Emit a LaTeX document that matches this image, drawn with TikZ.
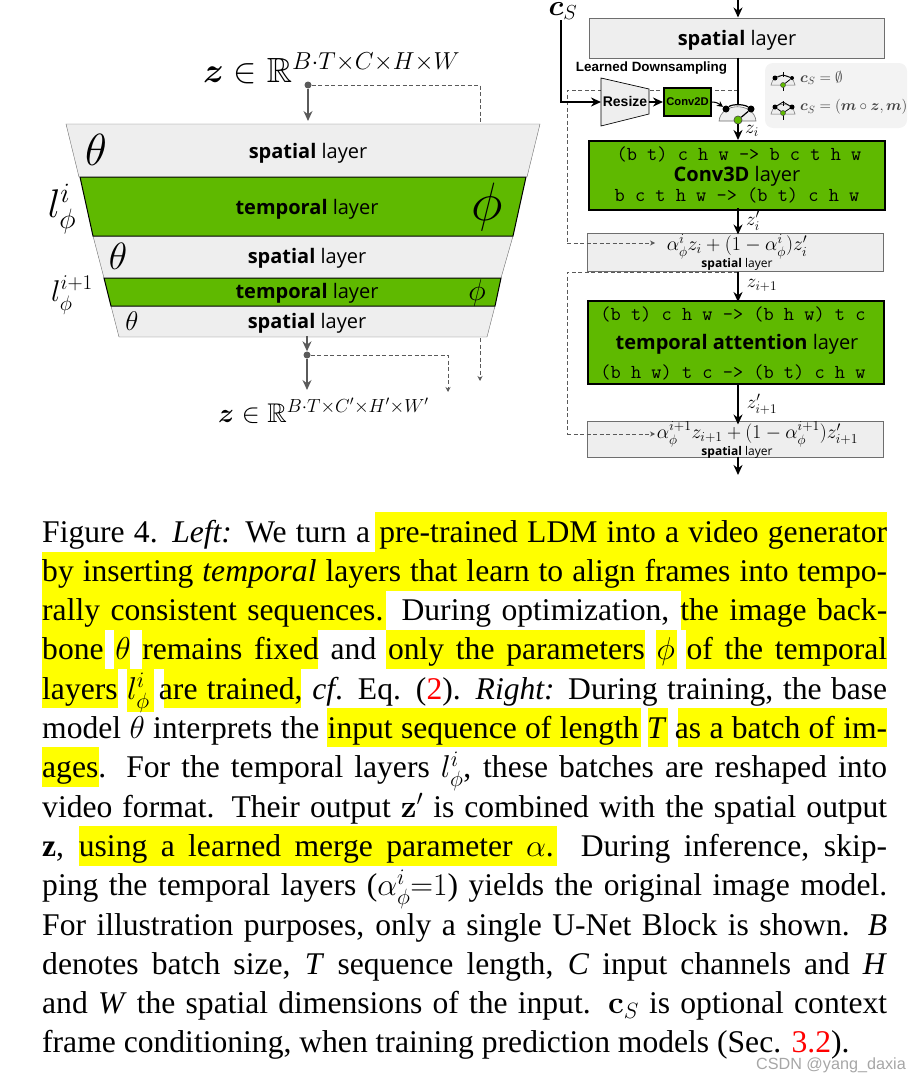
\documentclass[tikz,border=0pt]{standalone}
\usepackage{fix-cm}
\usepackage{amsmath,amssymb,bm}
\usepackage[no-math]{fontspec}
\setmainfont{Liberation Serif}
\newfontfamily\layerfont{Open Sans}
\newfontfamily\labelfont{Liberation Sans}
\usetikzlibrary{arrows.meta}
\definecolor{layergray}{HTML}{EEEEEE}
\definecolor{legendgray}{HTML}{F3F3F3}
\definecolor{linegray}{HTML}{6E6E6E}
\definecolor{arrowgray}{HTML}{5A5A5A}
\definecolor{layergreen}{HTML}{5FB900}
\definecolor{markyellow}{HTML}{FFFF00}
\definecolor{refred}{HTML}{FF0000}
\newcommand{\fsz}[1]{\fontsize{#1}{#1}\selectfont}
\tikzset{
	layertext/.style={inner sep=0pt, yshift=-2.5pt, font=\layerfont\fsz{20}},
	smalltext/.style={inner sep=0pt, yshift=-1pt, font=\layerfont\fsz{12}},
	monotext/.style={inner sep=0pt, yshift=0.5pt, font=\ttfamily\fsz{19.8}},
	mathtext/.style={inner sep=0pt, font=\fsz{#1}},
	spatialbox/.style={draw=linegray, fill=layergray, line width=1pt, inner sep=0pt},
	greenbox/.style={draw=black, fill=layergreen, line width=2pt, inner sep=0pt},
	blackarrow/.style={-{Stealth[length=10pt,width=9pt]}, line width=1.8pt},
	grayarrow/.style={-{Stealth[length=10pt,width=9pt]}, draw=arrowgray, line width=1.3pt},
	dashline/.style={dashed, draw=arrowgray, line width=0.8pt, dash pattern=on 4pt off 2.5pt},
	dashtip/.style={dashline, -{Stealth[length=5pt,width=5pt]}},
	blackdot/.style={circle, fill=black, inner sep=0pt, minimum size=#1},
	greendot/.style={circle, fill=layergreen, draw=black!70, line width=0.5pt, inner sep=0pt, minimum size=#1},
	capline/.style={anchor=base west, inner sep=0pt, font=\rmfamily\fsz{31.6}},
	hilite/.style={fill=markyellow}
}
\begin{document}
\begin{tikzpicture}[x=1pt, y=-1pt]
	\useasboundingbox (0,0) rectangle (908,1076);
	% left part
	\fill[layergray] (66,124) -- (540,124) -- (527,177) -- (79,177) -- cycle;
	\fill[layergray] (93,236) -- (513,236) -- (501,278) -- (104,278) -- cycle;
	\fill[layergray] (111,306) -- (495,306) -- (487,337) -- (119,337) -- cycle;
	\draw[linegray] (79,177) -- (66,124) -- (540,124) -- (527,177);
	\draw[linegray] (93,236) -- (104,278) (513,236) -- (501,278);
	\draw[linegray] (111,306) -- (119,337) -- (487,337) -- (495,306);
	\draw[fill=layergreen, line width=1pt] (80,177) -- (526,177) -- (513,236) -- (93,236) -- cycle;
	\draw[fill=layergreen, line width=1pt] (104,278) -- (501,278) -- (495,306) -- (111,306) -- cycle;
	\node[layertext] (spA) at (308,151) {\textbf{spatial} layer};
	\node[layertext] (tmA) at (307,207) {\textbf{temporal} layer};
	\node[layertext] (spB) at (307,256) {\textbf{spatial} layer};
	\node[layertext] (tmB) at (307,291) {\textbf{temporal} layer};
	\node[layertext] (spC) at (307,321) {\textbf{spatial} layer};
	\node[mathtext=45] (thA) at (96,150) {$\theta$};
	\node[mathtext=54] (phA) at (487,207) {$\phi$};
	\node[mathtext=38] (thB) at (118,256) {$\theta$};
	\node[mathtext=30] (phB) at (477,293) {$\phi$};
	\node[mathtext=27] (thC) at (132,321) {$\theta$};
	\node[mathtext=40] (lyA) at (62,209) {$l_\phi^i$};
	\node[mathtext=30] (lyB) at (72,295) {$l_\phi^{i+1}$};
	\node[mathtext=35, anchor=base west] (inp) at (203,82) {$\bm{z}\in\mathbb{R}^{B\cdot T\times C\times H\times W}$};
	\node[mathtext=27, anchor=base west] (out) at (218,422) {$\bm{z}\in\mathbb{R}^{B\cdot T\times C'\times H'\times W'}$};
	\node[blackdot=7pt, fill=arrowgray] (inpdot) at (308,85) {};
	\node[blackdot=7pt, fill=arrowgray] (outdot) at (307,355) {};
	\coordinate (inpend) at (308,121);
	\coordinate (dashtop) at (480,122);
	\coordinate (outtop) at (307,336);
	\coordinate (outend) at (307,390);
	\coordinate (dashA) at (448,392);
	\coordinate (dashB) at (480,338);
	\coordinate (dashC) at (480,381);
	\draw[grayarrow] (inpdot) -- (inpend);
	\draw[dashline] (inpdot) -| (dashtop);
	\draw[grayarrow] (outtop) -- (outdot);
	\draw[grayarrow] (outdot) -- (outend);
	\draw[dashtip] (outdot) -| (dashA);
	\draw[dashtip] (dashB) -- (dashC);
	% right part
	\node[spatialbox, minimum width=295pt, minimum height=40pt] (spTop) at (736.5,38) {};
	\node[layertext] (spTopT) at (737,38) {\textbf{spatial} layer};
	\node[greenbox, minimum width=296pt, minimum height=69pt] (conv) at (737,175.5) {};
	\node[spatialbox, minimum width=296pt, minimum height=38pt] (mixA) at (735,252) {};
	\node[greenbox, minimum width=296pt, minimum height=83pt] (attn) at (736,342.5) {};
	\node[spatialbox, minimum width=296pt, minimum height=36pt] (mixB) at (735,439) {};
	\node[fill=legendgray, rounded corners=8pt, minimum width=142pt, minimum height=65pt, inner sep=0pt] (legend) at (836,95.5) {};
	\coordinate (dashD) at (738,90);
	\coordinate (dashE) at (567,243);
	\coordinate (dashEnd) at (655,243);
	\coordinate (dashF) at (738,272);
	\coordinate (dashG) at (567,434);
	\coordinate (dashEndB) at (655,434);
	\draw[dashline] (dashD) -- (dashD -| dashE) -- (dashE);
	\draw[dashtip] (dashE) -- (dashEnd);
	\draw[dashline] (dashF) -- (dashF -| dashG) -- (dashG);
	\draw[dashtip] (dashG) -- (dashEndB);
	\node[mathtext=29] (cs) at (563,11) {$\bm{c}_S$};
	\node[inner sep=0pt, font=\labelfont\bfseries\fsz{13.4}] (down) at (651.5,68) {Learned Downsampling};
	\draw[fill=layergray, line width=0.7pt] (601,78) -- (649,89) -- (649,114) -- (601,126) -- cycle;
	\node[inner sep=0pt, font=\labelfont\bfseries\fsz{14}] (resize) at (625,101) {Resize};
	\node[greenbox, minimum width=47pt, minimum height=28pt, font=\labelfont\bfseries\fsz{11.2}] (cv2) at (687.5,102) {Conv2D};
	% merge symbol
	\fill[layergray] (719,121) .. controls (721,102) and (754,102) .. (756,121) -- cycle;
	\draw[linegray, line width=0.6pt] (719,121) .. controls (721,102) and (754,102) .. (756,121) -- cycle;
	\node[blackdot=7pt] (mrgL) at (726,109) {};
	\node[blackdot=7pt] (mrgR) at (751,109) {};
	\coordinate (mrgT) at (738,105);
	\draw[line width=1.2pt] (mrgL) .. controls (732,104) and (744,104) .. (mrgR);
	\node[greendot=8pt] (mrg) at (738,120) {};
	\draw[line width=1.2pt] (mrgR) -- (mrg);
	\node[greendot=8pt] at (mrg) {};
	% connectors
	\coordinate (csT) at (561,20);
	\coordinate (outB) at (738,475);
	\coordinate (inT) at (738,0);
	\draw[blackarrow] (inT) -- (spTop.north -| mrg);
	\draw[line width=1.8pt] ([yshift=1pt]spTop.south -| mrg) -- (mrgT);
	\draw[blackarrow] (csT) |- (601,102);
	\draw[blackarrow] (649,102) -- (cv2.west);
	\draw[-{Stealth[length=6pt,width=6pt]}, line width=1pt] (cv2.east) .. controls (717,102) and (719,104) .. (mrgL);
	\draw[blackarrow] (mrg) -- (conv.north -| mrg);
	\draw[blackarrow] ([yshift=3pt]conv.south -| mrg) -- ([yshift=-2pt]mixA.north -| mrg);
	\draw[blackarrow] (mixA.south -| mrg) -- ([yshift=-2pt]attn.north -| mrg);
	\draw[blackarrow] (attn.south -| mrg) -- ([yshift=-4pt]mixB.north -| mrg);
	\draw[blackarrow] ([yshift=1pt]mixB.south -| mrg) -- (outB);
	\node[mathtext=19] (zA) at (752,131) {$z_i$};
	\node[mathtext=19] (zB) at (753,221) {$z_i'$};
	\node[mathtext=19] (zC) at (762,285) {$z_{i+1}$};
	\node[mathtext=19] (zD) at (762,404) {$z_{i+1}'$};
	\node[monotext] (cvA) at (739,155) {(b t) c h w -> b c t h w};
	\node[layertext] (cvB) at (737,174) {\textbf{Conv3D} layer};
	\node[monotext] (cvC) at (737,196) {b c t h w -> (b t) c h w};
	\node[monotext] (atA) at (733,315) {(b t) c h w -> (b h w) t c};
	\node[layertext] (atB) at (737,342) {\textbf{temporal attention} layer};
	\node[monotext] (atC) at (733,373) {(b h w) t c -> (b t) c h w};
	\node[mathtext=19.8] (mxA) at (737,247) {$\alpha_\phi^i z_i+(1-\alpha_\phi^i)z_i'$};
	\node[smalltext] (mxAT) at (737,263) {\textbf{spatial} layer};
	\node[mathtext=19.6] (mxB) at (757.5,434) {$\alpha_\phi^{i+1} z_{i+1}+(1-\alpha_\phi^{i+1})z_{i+1}'$};
	\node[smalltext] (mxBT) at (737,451) {\textbf{spatial} layer};
	% legend
	\foreach \ly/\lname in {78/icA,107/icB} {
		\fill[layergray] (771,\ly+7) .. controls (773,\ly-6) and (793,\ly-6) .. (795,\ly+7) -- cycle;
		\draw[linegray, line width=0.5pt] (771,\ly+7) .. controls (773,\ly-6) and (793,\ly-6) .. (795,\ly+7) -- cycle;
		\draw[line width=0.8pt] (783,\ly-6) -- (783,\ly-1) (783,\ly+7) -- (783,\ly+13);
	}
	\node[blackdot=5pt] (icAL) at (775,78) {};
	\node[blackdot=4pt] (icAR) at (792,78) {};
	\node[greendot=5pt] (icAG) at (783,85) {};
	\draw[line width=0.8pt] (icAL) -- (783,75) -- (icAR) -- (icAG);
	\node[blackdot=5pt] (icBL) at (775,107) {};
	\node[blackdot=5pt] (icBR) at (792,107) {};
	\node[greendot=5pt] (icBG) at (783,113) {};
	\draw[line width=0.8pt] (icBL) -- (icBG) -- (icBR) -- (783,102) -- (icBL);
	\node[mathtext=15, anchor=west, text=black!75] (lgA) at (800,78) {$\bm{c}_S=\emptyset$};
	\node[mathtext=15, anchor=west, text=black!75] (lgB) at (800,107) {$\bm{c}_S=(\bm{m}\circ\bm{z},\bm{m})$};
	% caption
	\foreach \xa/\ya/\xb/\yb in {375/512/887/552, 42/552/887/591, 42/591/386/630, 681/591/887/630, 42/630/105/669, 114/630/130/669, 142/630/318/669, 386/630/645/669, 656/630/677/669, 686/630/887/669, 42/669/118/708, 127/669/154/712, 164/669/301/708, 327/708/641/747, 648/708/668/747, 678/708/887/747, 42/747/99/787, 79/826/557/866} {
		\fill[hilite] (\xa,\ya) rectangle (\xb,\yb);
	}
	\node[capline] (capA) at (42,542) {\hbox to 845pt{Figure 4. \textit{Left:} We turn a pre-trained LDM into a video generator}};
	\node[capline] (capB) at (42,581.3) {\hbox to 845pt{by inserting \textit{temporal} layers that learn to align frames into tempo-}};
	\node[capline] (capC) at (42,620.6) {\hbox to 845pt{rally consistent sequences. During optimization, the image back-}};
	\node[capline] (capD) at (42,659.9) {\hbox to 845pt{bone $\theta$ remains fixed and only the parameters $\phi$ of the temporal}};
	\node[capline] (capE) at (42,699.2) {\hbox to 845pt{layers $l_\phi^i$ are trained, \textit{cf}. Eq. ({\color{refred}2}). \textit{Right:} During training, the base}};
	\node[capline] (capF) at (42,738.5) {\hbox to 845pt{model $\theta$ interprets the input sequence of length \textit{T} as a batch of im-}};
	\node[capline] (capG) at (42,777.8) {\hbox to 845pt{ages. For the temporal layers $l_\phi^i$, these batches are reshaped into}};
	\node[capline] (capH) at (42,817.1) {\hbox to 845pt{video format. Their output $\mathbf{z}'$ is combined with the spatial output}};
	\node[capline] (capI) at (42,856.4) {\hbox to 845pt{\textbf{z}, using a learned merge parameter $\alpha$. During inference, skip-}};
	\node[capline] (capJ) at (42,895.7) {\hbox to 845pt{ping the temporal layers ($\alpha_\phi^i{=}1$) yields the original image model.}};
	\node[capline] (capK) at (42,935) {\hbox to 845pt{For illustration purposes, only a single U-Net Block is shown. \textit{B}}};
	\node[capline] (capL) at (42,974.3) {\hbox to 845pt{denotes batch size, \textit{T} sequence length, \textit{C} input channels and \textit{H}}};
	\node[capline] (capM) at (42,1013.6) {\hbox to 845pt{and \textit{W} the spatial dimensions of the input. $\mathbf{c}_S$ is optional context}};
	\node[capline] (capN) at (42,1052.9) {frame conditioning, when training prediction models (Sec. {\color{refred}3.2}).};
	\node[anchor=base east, inner sep=0pt, text=black!35, font=\labelfont\fsz{16.2}] (mark) at (906,1069) {CSDN @yang\_daxia};
\end{tikzpicture}
\end{document}
